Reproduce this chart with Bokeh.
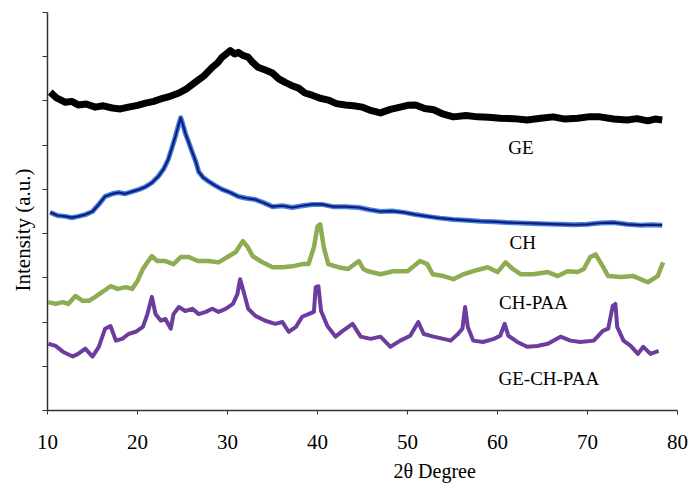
from bokeh.plotting import figure
from bokeh.models import Range1d, FixedTicker, Label, Title
from bokeh.embed import file_html
from bokeh.resources import INLINE

# ---- data (2θ in degrees, intensity in arbitrary units, offset stacked) ----
ge_x = [10.3, 11.0, 12.0, 12.7, 13.4, 14.3, 15.3, 16.2, 17.2, 18.1, 19.0, 20.0, 20.9, 21.8,
        22.8, 23.7, 24.6, 25.5, 26.4, 27.4, 28.3, 28.9, 29.4, 29.9, 30.3, 30.8, 31.2, 31.7,
        32.3, 32.8, 33.4, 34.2, 35.0, 35.7, 36.4, 37.1, 37.9, 38.6, 39.4, 40.3, 41.2, 42.1,
        43.1, 44.0, 45.0, 46.0, 47.0, 48.1, 49.2, 50.0, 50.9, 51.9, 52.9, 54.0, 55.1, 56.5,
        57.8, 59.0, 60.3, 61.8, 63.3, 64.8, 66.2, 67.5, 68.9, 70.1, 71.4, 72.9, 74.4, 75.5,
        76.7, 77.5, 78.3]
ge_y = [720, 707, 697, 699, 691, 693, 686, 689, 684, 682, 686, 690, 695, 699,
        706, 711, 718, 728, 742, 757, 776, 786, 799, 807, 814, 806, 810, 803,
        799, 787, 776, 770, 763, 750, 742, 735, 729, 718, 713, 706, 702, 694,
        691, 689, 686, 678, 673, 681, 686, 690, 691, 683, 680, 670, 664, 667,
        664, 663, 661, 660, 657, 661, 664, 659, 661, 664, 664, 659, 657, 660,
        655, 659, 657]

ch_x = [10.3, 11.1, 12.0, 12.7, 13.4, 14.2, 15.0, 15.7, 16.4, 17.2, 17.9, 18.6, 19.4, 20.2,
        20.9, 21.6, 22.3, 22.9, 23.4, 23.8, 24.2, 24.5, 24.8, 25.0, 25.3, 25.7, 26.1, 26.5,
        26.8, 27.3, 27.9, 28.6, 29.4, 30.3, 31.2, 32.1, 33.1, 34.0, 35.0, 36.1, 37.2, 38.3,
        39.4, 40.5, 41.7, 43.1, 44.6, 45.8, 47.0, 48.3, 49.6, 50.9, 52.2, 53.6, 55.1, 56.6,
        58.1, 59.6, 61.1, 62.5, 64.0, 65.5, 67.0, 68.5, 70.0, 71.4, 72.9, 74.4, 75.9, 77.1,
        78.3]
ch_y = [448, 441, 439, 436, 439, 443, 450, 466, 484, 490, 493, 490, 495, 500,
        506, 515, 529, 546, 567, 592, 619, 641, 662, 650, 628, 606, 583, 561,
        540, 527, 518, 509, 500, 493, 484, 480, 477, 470, 461, 463, 459, 463,
        466, 466, 461, 461, 459, 454, 450, 451, 448, 443, 439, 435, 432, 430,
        428, 427, 425, 424, 423, 422, 421, 420, 421, 424, 425, 421, 419, 420,
        419]

chpaa_x = [10.1, 10.9, 11.7, 12.3, 13.1, 13.9, 14.6, 15.3, 16.1, 17.0, 17.8, 18.7, 19.4, 20.0,
           20.6, 21.1, 21.6, 22.2, 23.1, 24.0, 24.8, 25.7, 26.7, 27.9, 29.0, 30.0, 30.9, 31.7,
           32.2, 32.8, 33.9, 35.0, 36.1, 37.2, 38.3, 39.0, 39.6, 40.0, 40.3, 40.7, 41.2, 42.3,
           43.4, 44.6, 45.1, 45.6, 47.0, 48.4, 50.0, 51.4, 52.2, 52.8, 54.0, 55.1, 56.2, 57.3,
           58.9, 60.0, 60.9, 61.7, 62.6, 64.0, 65.6, 66.7, 67.8, 68.9, 69.6, 70.3, 70.9, 71.7,
           72.3, 73.7, 75.1, 76.7, 77.8, 78.4]
chpaa_y = [245, 241, 245, 241, 259, 248, 248, 257, 268, 281, 275, 279, 275, 293,
           320, 335, 349, 338, 338, 331, 347, 347, 338, 338, 335, 347, 358, 383,
           371, 349, 335, 324, 324, 326, 331, 331, 369, 416, 421, 369, 331, 324,
           320, 338, 320, 315, 308, 315, 315, 338, 331, 308, 304, 297, 308, 315,
           324, 313, 335, 320, 308, 308, 313, 304, 315, 313, 320, 347, 353, 326,
           304, 302, 304, 290, 304, 335]

gechpaa_x = [10.1, 10.9, 11.7, 12.8, 13.4, 14.2, 15.0, 15.7, 16.4, 17.0, 17.6, 18.3, 19.0, 19.8,
             20.6, 21.1, 21.6, 22.0, 22.6, 23.1, 23.7, 24.0, 24.6, 25.3, 26.1, 26.8, 27.6, 28.3,
             29.0, 29.8, 30.6, 31.1, 31.4, 31.8, 32.3, 33.1, 34.2, 35.3, 36.1, 36.8, 37.6, 38.3,
             39.0, 39.6, 39.8, 40.1, 40.4, 41.1, 42.0, 42.8, 43.9, 44.8, 45.9, 47.0, 48.1, 49.2,
             50.3, 51.2, 51.8, 52.9, 54.0, 54.8, 55.6, 56.1, 56.4, 56.7, 57.3, 58.4, 59.6, 60.3,
             60.8, 61.2, 62.2, 63.3, 64.4, 65.6, 67.0, 68.1, 69.2, 70.7, 71.7, 72.3, 72.8, 73.1,
             73.3, 74.0, 74.8, 75.6, 76.2, 77.0, 77.9]
gechpaa_y = [151, 146, 133, 122, 128, 140, 122, 144, 185, 191, 158, 162, 173, 178,
             189, 218, 257, 218, 203, 207, 185, 218, 234, 225, 230, 218, 223, 230,
             223, 230, 241, 263, 297, 268, 230, 214, 203, 196, 200, 178, 189, 212,
             218, 223, 279, 281, 225, 191, 167, 180, 196, 167, 162, 167, 144, 158,
             169, 200, 173, 167, 162, 158, 173, 185, 234, 189, 158, 155, 162, 169,
             196, 169, 155, 144, 146, 151, 167, 158, 155, 158, 180, 185, 236, 241,
             189, 158, 146, 128, 144, 128, 135]

x_ticks = [10, 20, 30, 40, 50, 60, 70, 80]
y_ticks = [0, 100, 200, 300, 400, 500, 600, 700, 800, 900]

labels = ["GE", "CH", "CH-PAA", "GE-CH-PAA"]
label_x = [62.6, 62.8, 64.0, 65.7]
label_y = [594, 380, 245, 72]

x_title = "2θ Degree"
y_title = "Intensity (a.u.)"

serif = "Liberation Serif"

p = figure(width=689, height=488, output_backend="svg", toolbar_location=None,
           x_range=Range1d(10, 80), y_range=Range1d(0, 900),
           min_border_left=47, min_border_right=12, min_border_top=12, min_border_bottom=76)
p.outline_line_color = None
p.grid.visible = False
p.background_fill_color = "white"
p.border_fill_color = "white"

# x axis
xa = p.xaxis[0]
xa.ticker = FixedTicker(ticks=x_ticks)
xa.axis_line_color = "#333333"
xa.axis_line_width = 1.5
xa.major_tick_line_color = "#333333"
xa.major_tick_out = 4
xa.major_tick_in = 0
xa.minor_tick_line_color = None
xa.major_label_text_font = serif
xa.major_label_text_font_size = "21px"
xa.major_label_text_color = "black"
xa.major_label_standoff = 20

# y axis
ya = p.yaxis[0]
ya.ticker = FixedTicker(ticks=y_ticks)
ya.axis_line_color = "#333333"
ya.axis_line_width = 1.5
ya.major_tick_line_color = "#333333"
ya.major_tick_out = 5
ya.major_tick_in = 0
ya.minor_tick_line_color = None
ya.major_label_standoff = 0
ya.major_label_text_font_size = "0px"
ya.major_label_text_color = None

# axis titles (placed as side titles so they can sit off-centre, as in the original)
p.add_layout(Title(text=x_title, align="left", offset=346, standoff=13, text_font=serif,
                   text_font_size="20px", text_font_style="normal", text_color="black"), "below")
p.add_layout(Title(text=y_title, align="left", offset=119, standoff=16, text_font=serif,
                   text_font_size="21px", text_font_style="normal", text_color="black"), "left")

# curves
p.line(ge_x, ge_y, line_color="black", line_width=7, line_join="round")
p.line(ch_x, ch_y, line_color="#4a7fd6", line_width=5, line_join="round")
p.line(ch_x, ch_y, line_color="#0b1e86", line_width=2.2, line_join="round")
p.line(chpaa_x, chpaa_y, line_color="#8cad52", line_width=4.5, line_join="round")
p.line(gechpaa_x, gechpaa_y, line_color="#6a3d9e", line_width=4, line_join="round")

# curve labels
for t, lx, ly in zip(labels, label_x, label_y):
    p.add_layout(Label(x=lx, y=ly, text=t, text_font=serif, text_font_size="19px",
                       text_color="black", text_align="center", text_baseline="middle"))

open("out.html", "w").write(file_html(p, INLINE))
